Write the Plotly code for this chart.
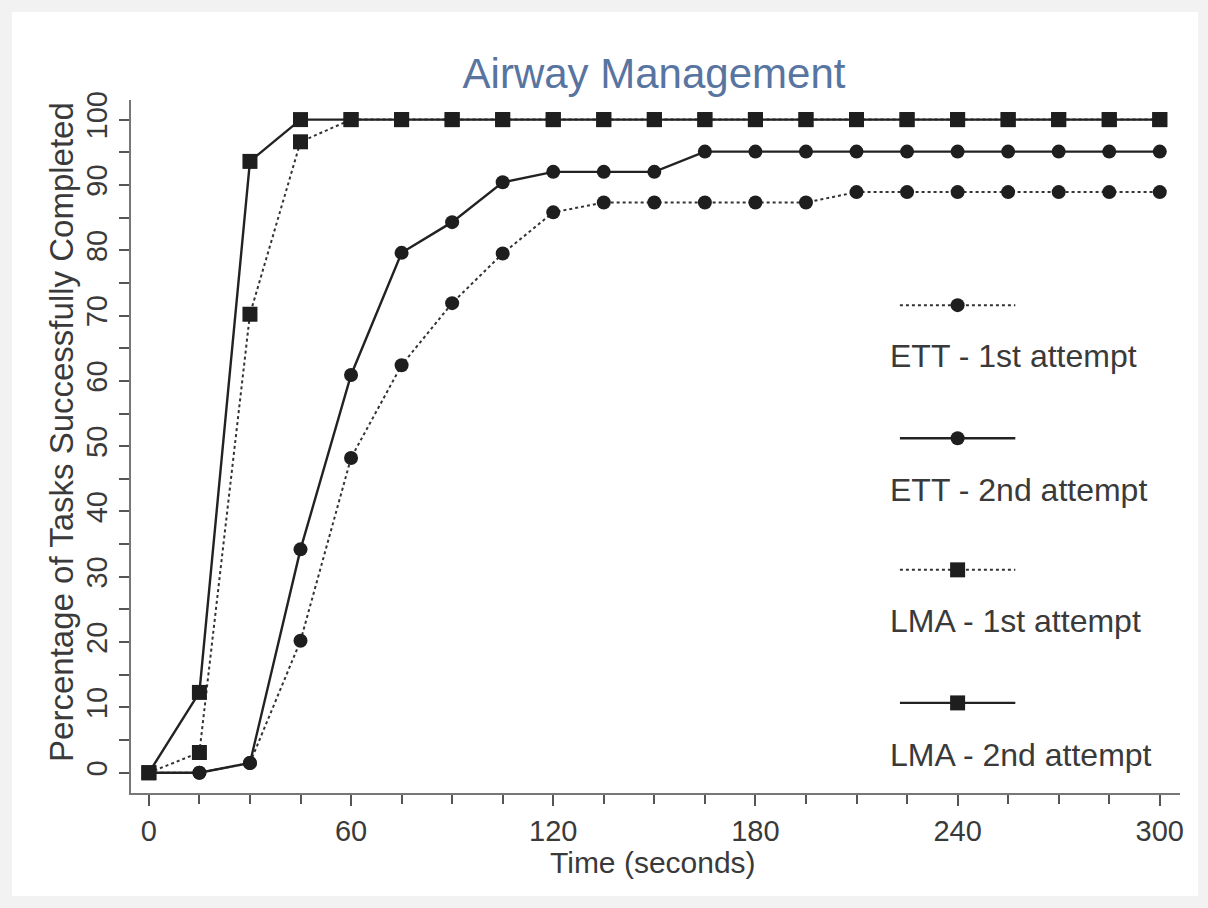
import plotly.graph_objects as go

time_s = [0, 15, 30, 45, 60, 75, 90, 105, 120, 135, 150, 165, 180, 195, 210, 225, 240, 255, 270, 285, 300]

ett_1st = [0, 0, 1.5, 20.2, 48.2, 62.4, 71.9, 79.5, 85.8, 87.3, 87.3, 87.3, 87.3, 87.3, 88.9, 88.9, 88.9, 88.9, 88.9, 88.9, 88.9]
ett_2nd = [0, 0, 1.5, 34.2, 60.9, 79.6, 84.3, 90.4, 92.0, 92.0, 92.0, 95.1, 95.1, 95.1, 95.1, 95.1, 95.1, 95.1, 95.1, 95.1, 95.1]
lma_1st = [0, 3.1, 70.2, 96.6, 100, 100, 100, 100, 100, 100, 100, 100, 100, 100, 100, 100, 100, 100, 100, 100, 100]
lma_2nd = [0, 12.3, 93.6, 100, 100, 100, 100, 100, 100, 100, 100, 100, 100, 100, 100, 100, 100, 100, 100, 100, 100]

series_names = ["ETT - 1st attempt", "ETT - 2nd attempt", "LMA - 1st attempt", "LMA - 2nd attempt"]
series_values = [ett_1st, ett_2nd, lma_1st, lma_2nd]
series_dash = ["dot", "solid", "dot", "solid"]
series_symbol = ["circle", "circle", "square", "square"]

x_tick_vals = [0, 60, 120, 180, 240, 300]
y_tick_vals = [0, 10, 20, 30, 40, 50, 60, 70, 80, 90, 100]

FONT = "Liberation Sans, Arial, sans-serif"
TXT = "#3a3a3a"
LINE = "#222222"

fig = go.Figure()
for name, vals, dash, sym in zip(series_names, series_values, series_dash, series_symbol):
    fig.add_trace(go.Scatter(
        x=time_s, y=vals, mode="lines+markers", name=name, showlegend=False,
        line=dict(color=LINE if dash == "solid" else "#333333",
                  width=2.4 if dash == "solid" else 2.0, dash=dash),
        marker=dict(symbol=sym, size=14 if sym == "circle" else 15, color="#1e1e1e",
                    line=dict(width=0)),
    ))

# custom legend (symbol above label), drawn on a hidden overlay axis
leg_x0, leg_x1, leg_xm = 0.733, 0.843, 0.788
leg_line_y = [0.704, 0.512, 0.322, 0.130]
leg_text_y = [0.630, 0.437, 0.248, 0.055]
for name, dash, sym, ly, ty in zip(series_names, series_dash, series_symbol, leg_line_y, leg_text_y):
    fig.add_trace(go.Scatter(
        x=[leg_x0, leg_xm, leg_x1], y=[ly, ly, ly], xaxis="x2", yaxis="y2",
        mode="lines", showlegend=False, hoverinfo="skip",
        line=dict(color=LINE if dash == "solid" else "#333333",
                  width=2.4 if dash == "solid" else 2.0, dash=dash),
    ))
    fig.add_trace(go.Scatter(
        x=[leg_xm], y=[ly], xaxis="x2", yaxis="y2",
        mode="markers", showlegend=False, hoverinfo="skip",
        marker=dict(symbol=sym, size=14 if sym == "circle" else 15, color="#1e1e1e"),
    ))
    fig.add_annotation(x=0.7215, y=ty, xref="paper", yref="paper", text=name,
                       showarrow=False, xanchor="left", yanchor="middle",
                       font=dict(family=FONT, size=32, color=TXT))

# axis titles
fig.add_annotation(x=0.4976, y=-0.1005, xref="paper", yref="paper", text="Time (seconds)",
                   showarrow=False, xanchor="center", yanchor="middle",
                   font=dict(family=FONT, size=30, color=TXT))
fig.add_annotation(x=-0.0658, y=0.521, xref="paper", yref="paper",
                   text="Percentage of Tasks Successfully Completed", textangle=-90,
                   showarrow=False, xanchor="center", yanchor="middle",
                   font=dict(family=FONT, size=33, color=TXT))

fig.add_shape(type="rect", xref="paper", yref="paper",
              x0=-0.1134, x1=1.0172, y0=-0.1486, y1=1.127,
              fillcolor="white", line=dict(width=0), layer="below")

fig.update_layout(
    width=1208, height=908,
    paper_bgcolor="#f2f2f2", plot_bgcolor="white",
    margin=dict(l=131, r=28, t=100, b=115),
    title=dict(text="Airway Management", x=0.5414, xanchor="center",
               y=1 - 73 / 908, yanchor="middle",
               font=dict(family=FONT, size=42, color="#5874a0")),
    font=dict(family=FONT, color=TXT),
    xaxis=dict(range=[-5.3, 306], tickvals=x_tick_vals, ticks="outside", ticklen=11,
               tickwidth=1.5, tickcolor="#555", showline=True, linecolor="#777", linewidth=2,
               mirror=False, showgrid=False, zeroline=False,
               tickfont=dict(family=FONT, size=29, color=TXT),
               minor=dict(dtick=15, tick0=0, ticks="outside", ticklen=9, tickcolor="#555", tickwidth=1.5)),
    yaxis=dict(range=[-3.1, 103], tickvals=y_tick_vals, ticks="outside", ticklen=10,
               tickwidth=1.5, tickcolor="#555", showline=True, linecolor="#777", linewidth=2,
               showgrid=False, zeroline=False, tickangle=-90,
               tickfont=dict(family=FONT, size=29, color=TXT),
               minor=dict(dtick=5, tick0=0, ticks="outside", ticklen=10, tickcolor="#555", tickwidth=1.5)),
    xaxis2=dict(overlaying="x", range=[0, 1], visible=False),
    yaxis2=dict(overlaying="y", range=[0, 1], visible=False),
)

fig.write_html("out.html", config={"displayModeBar": False},
               post_script="document.body.style.margin='0';")
